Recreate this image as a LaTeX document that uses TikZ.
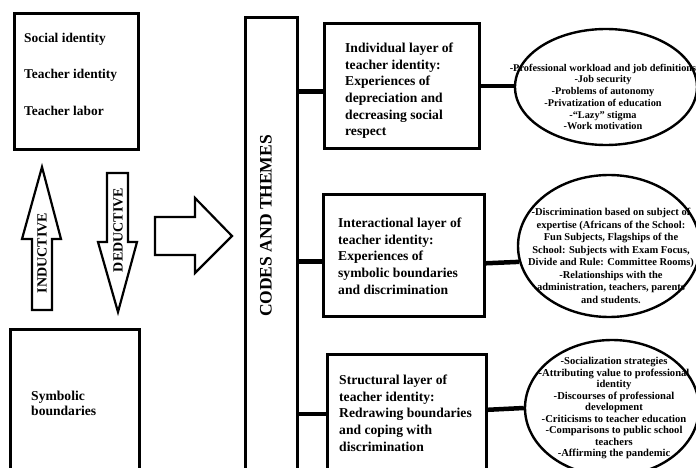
\documentclass[tikz,border=0pt]{standalone}
\usepackage{fontspec}
\setmainfont{Liberation Serif}
\usetikzlibrary{positioning,shapes.geometric}

\tikzset{
  boxframe/.style={draw, line width=2.6pt, rectangle, inner sep=0pt},
  blob/.style={draw, ellipse, line width=2.4pt, inner sep=0pt},
  blockarrow/.style={draw, line width=2.2pt, line join=miter},
  link/.style={line width=4.5pt},
  boxtext/.style={font=\fontsize{13.6}{16.7}\selectfont\bfseries, align=left, inner sep=0pt, anchor=north west},
  blobtext/.style={font=\fontsize{10.3}{11.7}\selectfont\bfseries, align=center, inner sep=0pt},
  sidetext/.style={font=\fontsize{14}{14}\selectfont\bfseries, rotate=90, inner sep=0pt},
}

\begin{document}
\begin{tikzpicture}[x=1pt, y=-1pt]
    \useasboundingbox (0,0) rectangle (696,468);
    \clip (0,0) rectangle (696,468);

    % left column
    \node[boxframe, minimum width=124pt, minimum height=136pt, anchor=north west] (concepts) at (13,12) {};
    \node[boxtext, font=\fontsize{13.4}{36.5}\selectfont\bfseries] (conceptstext) at (24,32.6)
        {Social identity\\Teacher identity\\Teacher labor};

    \node[boxframe, minimum width=129pt, minimum height=172pt, anchor=north west] (symbolic) at (9,328) {};
    \node[boxtext, font=\fontsize{13.6}{15}\selectfont\bfseries] (symbolictext) at (31,390.6)
        {Symbolic\\boundaries};

    % block arrows
    \draw[blockarrow] (32,310) -- (32,239) -- (22,239) -- (42,167) -- (61,239) -- (52,239) -- (52,310) -- cycle;
    \node[sidetext] (inductive) at (42,253) {INDUCTIVE};

    \draw[blockarrow] (107,173) -- (128,173) -- (128,242) -- (137,242) -- (118,312) -- (98,242) -- (107,242) -- cycle;
    \node[sidetext] (deductive) at (118,230) {DEDUCTIVE};

    \draw[blockarrow] (155,217) -- (195,217) -- (195,198) -- (232,236) -- (195,273) -- (195,255) -- (155,255) -- cycle;

    % codes and themes
    \node[boxframe, minimum width=52pt, minimum height=484pt, anchor=north west] (codes) at (244,16) {};
    \node[sidetext, font=\fontsize{17.5}{17.5}\selectfont\bfseries] (codestext) at (266,226) {CODES AND THEMES};

    % layers
    \node[boxframe, minimum width=155pt, minimum height=125pt, anchor=north west] (layer1) at (323,22) {};
    \node[boxtext] (layer1text) at (345,42.6)
        {Individual layer of\\teacher identity:\\Experiences of\\depreciation and\\decreasing social\\respect};

    \node[boxframe, minimum width=161pt, minimum height=122pt, anchor=north west] (layer2) at (322,193) {};
    \node[boxtext] (layer2text) at (338,217.6)
        {Interactional layer of\\teacher identity:\\Experiences of\\symbolic boundaries\\and discrimination};

    \node[boxframe, minimum width=159pt, minimum height=119pt, anchor=north west] (layer3) at (326,353) {};
    \node[boxtext] (layer3text) at (339,374.6)
        {Structural layer of\\teacher identity:\\Redrawing boundaries\\and coping with\\discrimination};

    % themes
    \node[blob, minimum width=182pt, minimum height=116pt] (blob1) at (606,87) {};
    \node[blobtext] (blob1text) at (603,97)
        {-Professional workload and job definitions\\-Job security\\-Problems of autonomy\\-Privatization of education\\-``Lazy'' stigma\\-Work motivation};

    \node[blob, minimum width=182pt, minimum height=142pt] (blob2) at (609,246) {};
    \node[blobtext, font=\fontsize{10.5}{12.5}\selectfont\bfseries] (blob2text) at (611,256)
        {-Discrimination based on subject of\\expertise (Africans of the School:\\Fun Subjects, Flagships of the\\School: Subjects with Exam Focus,\\Divide and Rule: Committee Rooms)\\-Relationships with the\\administration, teachers, parents\\and students.};

    \node[blob, minimum width=174pt, minimum height=136pt] (blob3) at (612,408) {};
    \node[blobtext, font=\fontsize{10.6}{11.5}\selectfont\bfseries] (blob3text) at (614,408)
        {-Socialization strategies\\-Attributing value to professional\\identity\\-Discourses of professional\\development\\-Criticisms to teacher education\\-Comparisons to public school\\teachers\\-Affirming the pandemic};

    % connectors
    \draw[link] ([yshift=-5.5pt]layer1.west) -- ([yshift=-5.5pt]layer1.west -| codes.east);
    \draw[link] ([yshift=-6pt]layer2.west) -- ([yshift=-6pt]layer2.west -| codes.east);
    \draw[link] (layer3.west) -- (layer3.west -| codes.east);
    \draw[link] (layer1.east) -- (layer1.east -| blob1.west);
    \draw[link] ([yshift=-8pt]layer2.east) -- (blob2.190);
    \draw[link] ([yshift=4pt]layer3.east) -- (blob3.west);
\end{tikzpicture}
\end{document}
